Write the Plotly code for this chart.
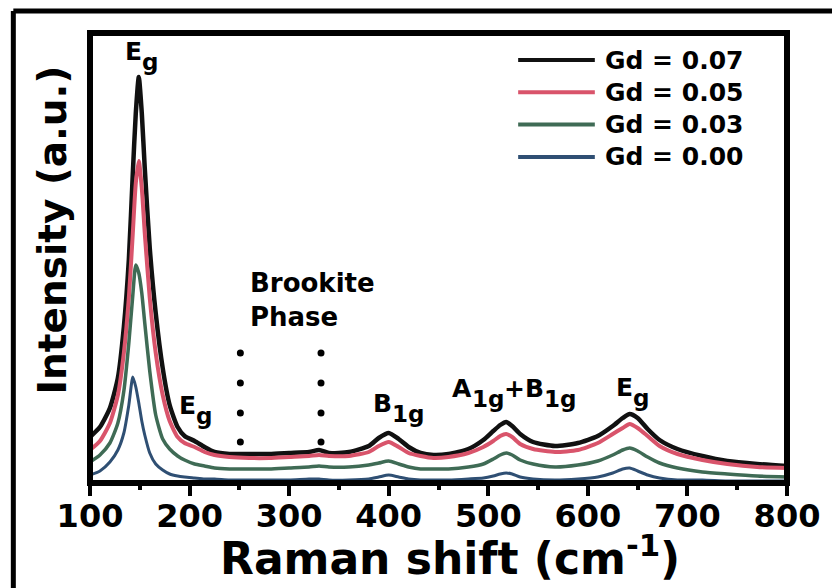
import plotly.graph_objects as go

# ---- data ----
raman_shift = [100, 110, 120, 128, 134, 139, 143, 146, 149, 152, 155, 160, 166, 173, 180, 188, 195,
               205, 215, 225, 240, 260, 280, 300, 320, 330, 340, 360, 380, 390, 400, 410, 420, 432,
               445, 460, 480, 495, 505, 512, 518, 524, 532, 545, 567, 590, 610, 625, 635, 642, 650,
               660, 672, 690, 715, 740, 770, 800]

gd_007 = [46, 56, 75, 105, 156, 223, 310, 370, 406, 370, 315, 235, 170, 115, 78, 56, 47,
          42, 36, 31, 29, 29, 29, 30, 31, 33, 30, 31, 37, 45, 50, 44, 36, 30,
          28, 29, 34, 43, 52, 58, 61, 57, 49, 41, 37, 40, 47, 57, 65, 69, 65,
          54, 43, 34, 27, 22, 19, 17]

gd_005 = [33, 42, 60, 88, 130, 185, 250, 300, 322, 295, 250, 185, 130, 88, 62, 46, 40,
          36, 31, 28, 26, 25, 25, 26, 27, 28, 27, 27, 31, 37, 41, 36, 30, 27,
          25, 26, 30, 36, 42, 47, 49, 46, 39, 34, 31, 33, 40, 49, 55, 59, 55,
          47, 37, 29, 23, 19, 16, 15]

gd_003 = [21, 28, 40, 60, 92, 140, 188, 218, 210, 190, 160, 112, 68, 44, 34, 27, 23,
          19, 17, 15, 14, 14, 14, 15, 16, 17, 16, 16, 18, 20, 22, 19, 16, 14,
          14, 14, 16, 19, 24, 28, 30, 28, 23, 19, 16, 18, 22, 28, 33, 35, 32,
          26, 20, 15, 11, 9, 7, 6]

gd_000 = [8, 12, 21, 33, 50, 78, 106, 96, 80, 62, 48, 30, 19, 13, 9, 7, 6,
          5, 4, 4, 3, 3, 3, 3, 4, 4, 3, 3, 4, 6, 8, 6, 4, 3,
          3, 3, 4, 5, 7, 9, 10, 9, 6, 4, 3, 4, 6, 10, 14, 15, 12,
          8, 5, 3, 3, 2, 2, 2]

series_names = ["Gd = 0.07", "Gd = 0.05", "Gd = 0.03", "Gd = 0.00"]
series_values = [gd_007, gd_005, gd_003, gd_000]
series_colors = ["#111111", "#d9546b", "#3f6b55", "#2f4f73"]
series_widths = [4.5, 4, 3.5, 3]

x_ticks = [100, 200, 300, 400, 500, 600, 700, 800]

brookite_x = [251, 332]
brookite_dot_levels = [130, 100, 70, 41]

FONT = "DejaVu Sans"
MAIN_SIZE, SUB_SIZE, SUB_DROP = 25, 23, 11
# DejaVu Sans Bold advance widths (em)
ADV = {"E": 0.683, "B": 0.762, "A": 0.774, "+": 0.838, "1": 0.696, "g": 0.716}

fig = go.Figure()
for name, vals, col, w in zip(series_names, series_values, series_colors, series_widths):
    fig.add_trace(go.Scatter(x=raman_shift, y=vals, mode="lines", name=name,
                             line=dict(color=col, width=w, shape="spline", smoothing=0.6),
                             showlegend=False))

# brookite dotted markers
for bx in brookite_x:
    fig.add_trace(go.Scatter(x=[bx] * len(brookite_dot_levels), y=brookite_dot_levels, mode="markers",
                             marker=dict(color="black", size=7), showlegend=False, hoverinfo="skip"))

# custom legend (long line samples)
leg_x0, leg_x1, leg_text_x = 530, 607, 615
leg_y0, leg_dy = 423, 32.3
shapes = []
annotations = []
for i, (name, col, w) in enumerate(zip(series_names, series_colors, series_widths)):
    yy = leg_y0 - i * leg_dy
    shapes.append(dict(type="line", xref="x", yref="y", x0=leg_x0, x1=leg_x1, y0=yy, y1=yy,
                       line=dict(color=col, width=4)))
    annotations.append(dict(x=leg_text_x, y=yy, xref="x", yref="y", text="<b>%s</b>" % name,
                            showarrow=False, xanchor="left", yanchor="middle",
                            font=dict(family=FONT, size=25, color="black")))

# peak labels: runs of (text, is_subscript)
peak_labels = [
    ([("E", 0), ("g", 1)], 133, 432),
    ([("E", 0), ("g", 1)], 187, 78),
    ([("B", 0), ("1g", 1)], 382, 80),
    ([("A", 0), ("1g", 1), ("+B", 0), ("1g", 1)], 462, 95),
    ([("E", 0), ("g", 1)], 626, 96),
]
for runs, lx, ly in peak_labels:
    xs = 0.0
    for txt, is_sub in runs:
        size = SUB_SIZE if is_sub else MAIN_SIZE
        annotations.append(dict(x=lx, y=ly, xref="x", yref="y", text="<b>%s</b>" % txt,
                                showarrow=False, xanchor="left", yanchor="middle",
                                xshift=xs, yshift=-SUB_DROP if is_sub else 0,
                                font=dict(family=FONT, size=size, color="black")))
        xs += sum(ADV[c] for c in txt) * size
annotations.append(dict(x=259, y=183, xref="x", yref="y", text="<b>Brookite<br>Phase</b>",
                        showarrow=False, xanchor="left", yanchor="middle", align="left",
                        font=dict(family=FONT, size=26, color="black")))

# axis titles
annotations.append(dict(x=0.517, y=-0.16, xref="paper", yref="paper",
                        text="<b>Raman shift (cm<sup>-1</sup>)</b>", showarrow=False,
                        xanchor="center", yanchor="middle",
                        font=dict(family=FONT, size=44, color="black")))
annotations.append(dict(x=-0.054, y=0.562, xref="paper", yref="paper",
                        text="<b>Intensity (a.u.)</b>", showarrow=False, textangle=-90,
                        xanchor="center", yanchor="middle",
                        font=dict(family=FONT, size=39, color="black")))

# plot frame
shapes.append(dict(type="rect", xref="paper", yref="paper", x0=0, x1=1, y0=0, y1=1,
                   line=dict(color="black", width=6), layer="above"))
# outer figure frame
shapes.append(dict(type="line", xref="paper", yref="paper", x0=-0.11, x1=1.08, y0=1.049, y1=1.049,
                   line=dict(color="black", width=5)))
shapes.append(dict(type="line", xref="paper", yref="paper", x0=-0.11, x1=-0.11, y0=1.049, y1=-0.26,
                   line=dict(color="black", width=5)))

fig.update_layout(
    width=832, height=588,
    margin=dict(l=90, r=42, t=33, b=105),
    paper_bgcolor="white", plot_bgcolor="white",
    shapes=shapes, annotations=annotations,
    showlegend=False,
    xaxis=dict(range=[100, 800], tickvals=x_ticks, ticktext=["<b>%d</b>" % t for t in x_ticks],
               ticks="outside", ticklen=12, tickwidth=4, tickcolor="black",
               ticklabelstandoff=-7,
               minor=dict(dtick=50, tick0=100, ticks="outside", ticklen=6, tickwidth=4, tickcolor="black"),
               showgrid=False, zeroline=False, showline=False,
               tickfont=dict(family=FONT, size=32, color="black")),
    yaxis=dict(range=[0, 450], showticklabels=False, ticks="", showgrid=False, zeroline=False,
               showline=False),
)

fig.write_html("out.html")
